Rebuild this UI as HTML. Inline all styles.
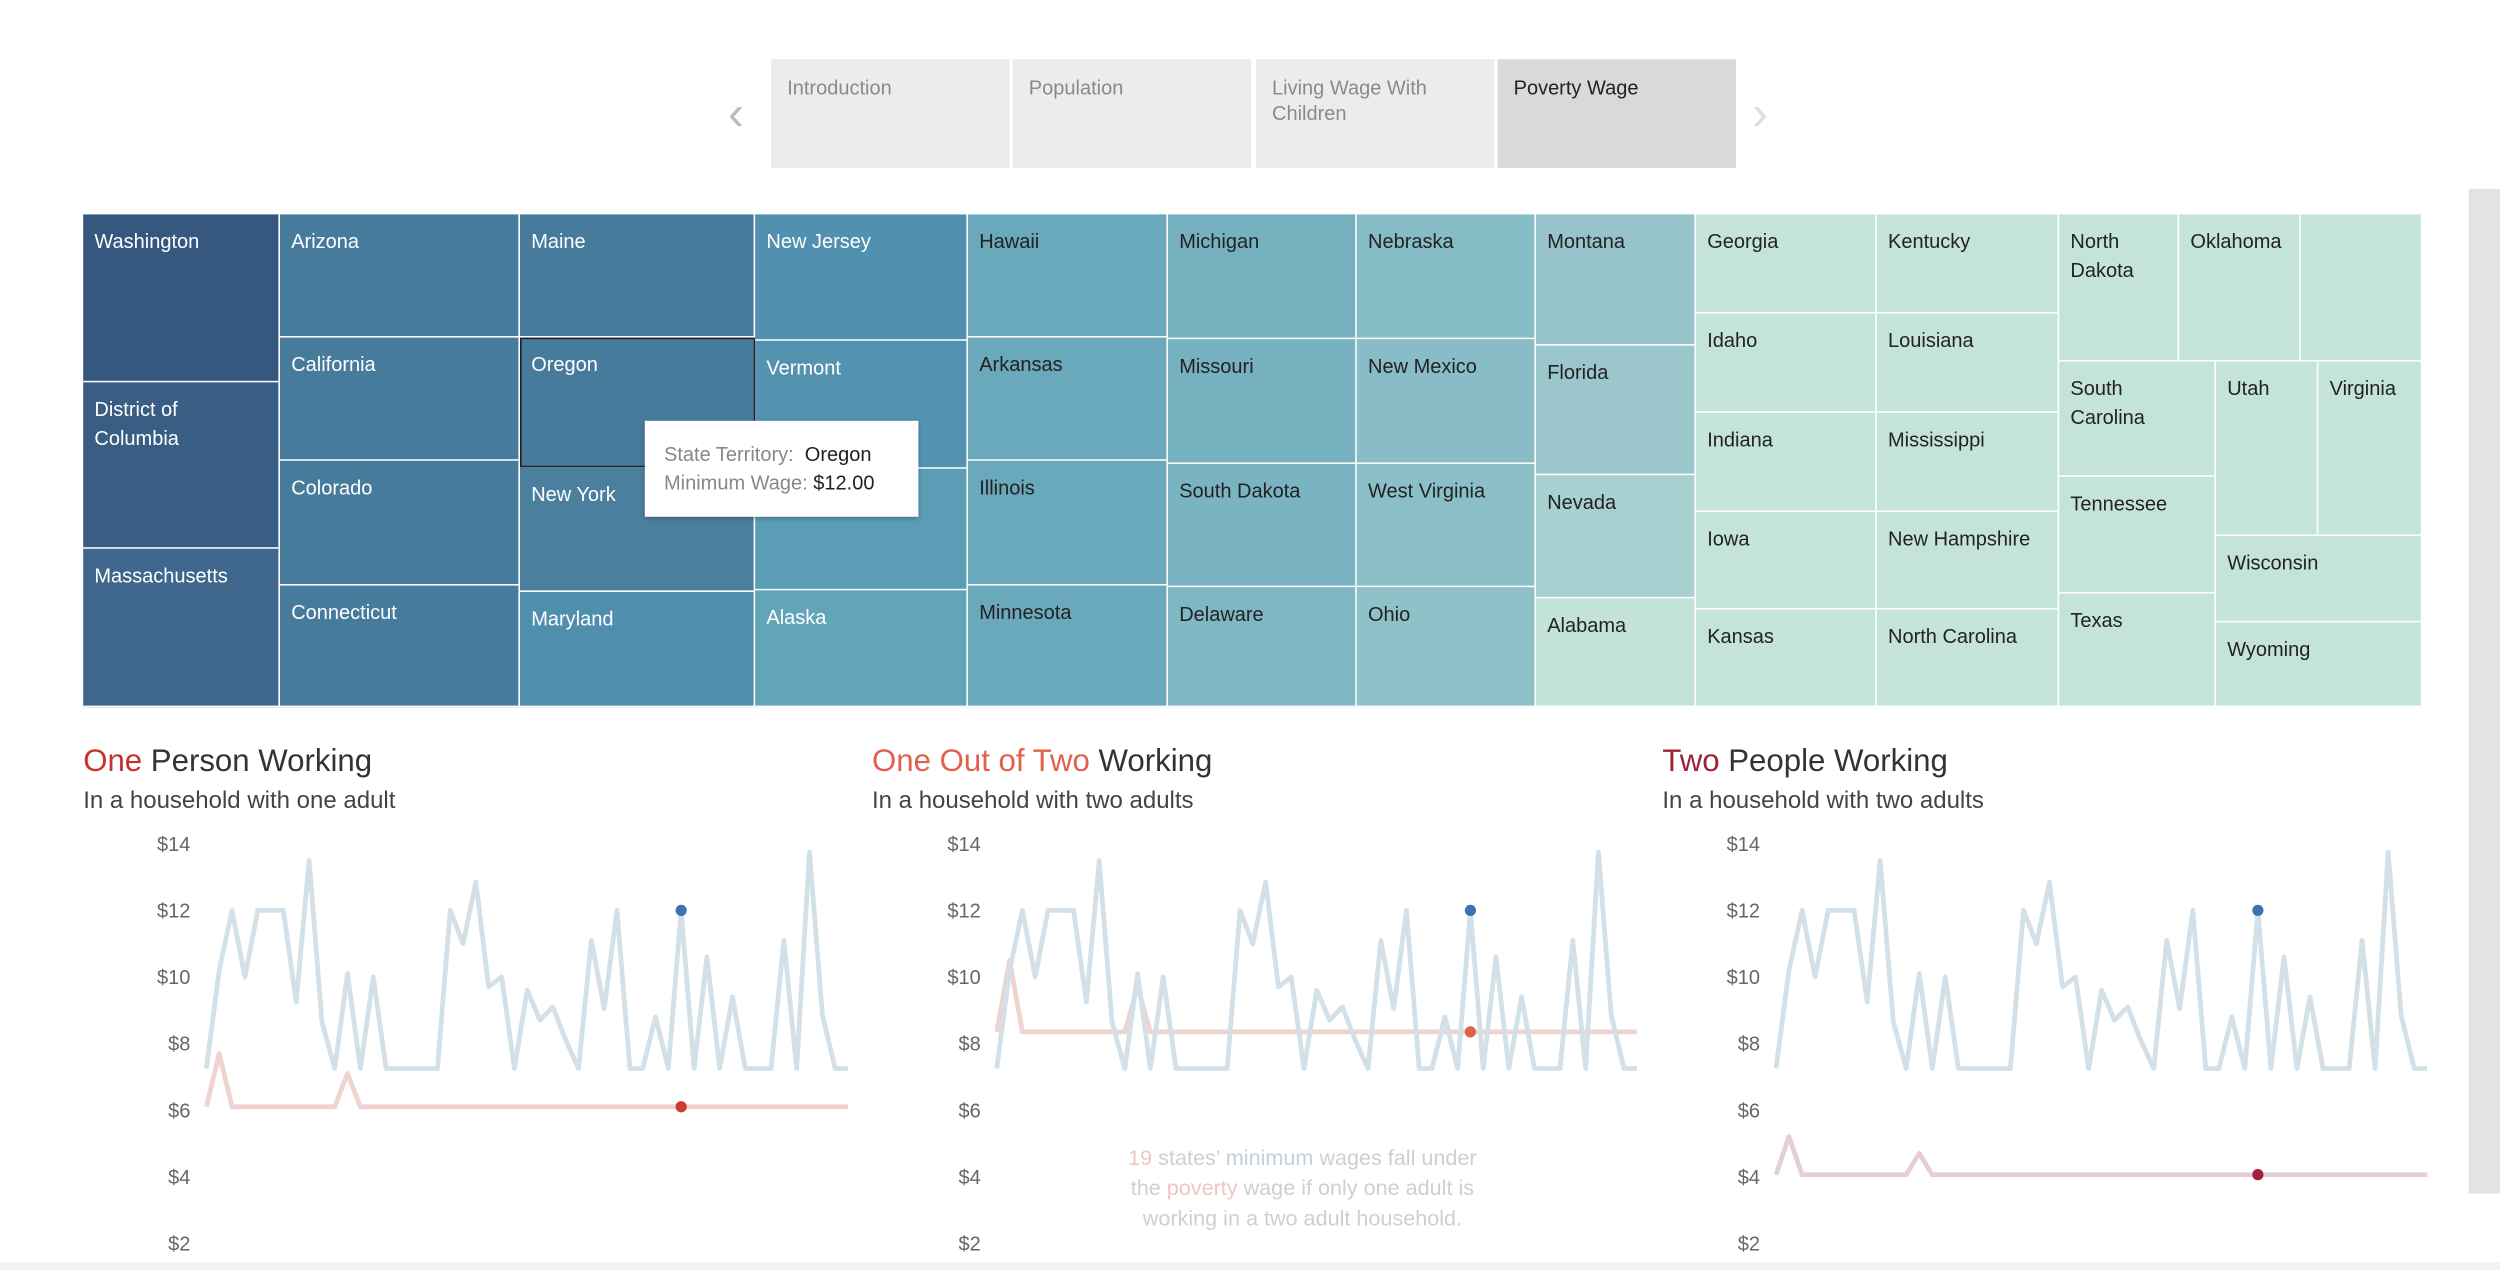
<!DOCTYPE html>
<html><head><meta charset="utf-8">
<style>
html,body{margin:0;padding:0;background:#fff;overflow:hidden;}
body{width:2500px;height:1270px;position:relative;font-family:"Liberation Sans","DejaVu Sans",sans-serif;}
#wrap{position:absolute;left:0;top:0;width:1562.5px;height:793.75px;transform:scale(1.6);transform-origin:0 0;}
.tab{position:absolute;top:37px;height:68px;background:#ececec;color:#8a8a8a;font-size:12.5px;line-height:16px;padding:10px;box-sizing:border-box;}
.cell{position:absolute;box-sizing:border-box;border-right:1.5px solid #fff;border-bottom:1.5px solid #fff;font-size:12.5px;line-height:18px;padding:8px 7px;}
.abs{position:absolute;}
</style></head><body>
<div id="wrap">
<div class="abs" style="left:455px;top:55px;font-size:30px;color:#bbb;">&#x2039;</div>
<div class="tab" style="left:482px;width:149px;">Introduction</div>
<div class="tab" style="left:633px;width:149px;">Population</div>
<div class="tab" style="left:785px;width:149px;">Living Wage With Children</div>
<div class="tab" style="left:936px;width:149px;background:#d9d9d9;color:#222;">Poverty Wage</div>
<div class="abs" style="left:1095px;top:55px;font-size:30px;color:#ddd;">&#x203A;</div>
<div class="abs" style="left:1543px;top:118px;width:20px;height:628px;background:#e3e3e3;"></div>
<div class="abs" style="left:0;top:789px;width:1563px;height:5px;background:#f3f3f3;"></div>
<div id="treemap"></div>
<div class="abs" style="left:403px;top:263px;width:171px;height:60px;background:#fff;box-shadow:0 1px 3px rgba(0,0,0,.3);font-size:12.5px;line-height:18px;padding:12px 0 0 12px;box-sizing:border-box;color:#888;">State Territory:&nbsp; <span style="color:#222">Oregon</span><br>Minimum Wage: <b style="color:#222;font-weight:normal">$12.00</b></div>
<svg id="charts" class="abs" style="left:0;top:0" width="1563" height="794"></svg>
</div>
<script>
const cells=[
["Washington",52,134,175,239],["District of Columbia",52,239,175,343],["Massachusetts",52,343,175,442],
["Arizona",175,134,325,211],["California",175,211,325,288],["Colorado",175,288,325,366],["Connecticut",175,366,325,442],
["Maine",325,134,472,211],["Oregon",325,211,472,292],["New York",325,292,472,370],["Maryland",325,370,472,442],
["New Jersey",472,134,605,213],["Vermont",472,213,605,293],["Rhode Island",472,293,605,369],["Alaska",472,369,605,442],
["Hawaii",605,134,730,211],["Arkansas",605,211,730,288],["Illinois",605,288,730,366],["Minnesota",605,366,730,442],
["Michigan",730,134,848,212],["Missouri",730,212,848,290],["South Dakota",730,290,848,367],["Delaware",730,367,848,442],
["Nebraska",848,134,960,212],["New Mexico",848,212,960,290],["West Virginia",848,290,960,367],["Ohio",848,367,960,442],
["Montana",960,134,1060,216],["Florida",960,216,1060,297],["Nevada",960,297,1060,374],["Alabama",960,374,1060,442],
["Georgia",1060,134,1173,196],["Idaho",1060,196,1173,258],["Indiana",1060,258,1173,320],["Iowa",1060,320,1173,381],["Kansas",1060,381,1173,442],
["Kentucky",1173,134,1287,196],["Louisiana",1173,196,1287,258],["Mississippi",1173,258,1287,320],["New Hampshire",1173,320,1287,381],["North Carolina",1173,381,1287,442],
["North Dakota",1287,134,1362,226],["Oklahoma",1362,134,1438,226],["Pennsylvania",1438,134,1514,226],
["South Carolina",1287,226,1385,298],["Tennessee",1287,298,1385,371],["Texas",1287,371,1385,442],
["Utah",1385,226,1449,335],["Virginia",1449,226,1514,335],["Wisconsin",1385,335,1514,389],["Wyoming",1385,389,1514,442]];
const colors={"Washington":"#36587f","District of Columbia":"#3a5d84","Massachusetts":"#3f678e",
"Arizona":"#477b9b","California":"#477b9b","Colorado":"#477b9b","Connecticut":"#477b9b",
"Maine":"#477b9b","Oregon":"#477b9b","New York":"#4a7f9e","Maryland":"#508ead",
"New Jersey":"#5190ae","Vermont":"#5393b0","Rhode Island":"#5b9db5","Alaska":"#62a5b9",
"Hawaii":"#69a9bb","Arkansas":"#69a9bb","Illinois":"#69a9bb","Minnesota":"#69a9bb",
"Michigan":"#76b1c0","Missouri":"#76b1c0","South Dakota":"#7ab4c2","Delaware":"#7fb7c4",
"Nebraska":"#86bcc6","New Mexico":"#88bdc7","West Virginia":"#8bbfc8","Ohio":"#8fc1c9",
"Montana":"#97c4ca","Florida":"#9bc6cc","Nevada":"#a8d0d0","Alabama":"#c3e3d9"};
const tm=document.getElementById('treemap');
const darkText=new Set(["Washington","District of Columbia","Massachusetts","Arizona","California","Colorado","Connecticut","Maine","Oregon","New York","Maryland","New Jersey","Vermont","Rhode Island","Alaska"]);
const wrapNames={"South Carolina":"South<br>Carolina","North Dakota":"North<br>Dakota","District of Columbia":"District of<br>Columbia"};
cells.forEach(c=>{
 const d=document.createElement('div');
 d.className='cell';
 
 
 d.style.left=c[1]+'px';d.style.top=c[2]+'px';d.style.width=(c[3]-c[1])+'px';d.style.height=(c[4]-c[2])+'px';
 d.style.background=colors[c[0]]||'#c4e4d9';
 d.style.color=darkText.has(c[0])?'#fff':'#222';
 if(c[0]!=="Rhode Island"&&c[0]!=="Pennsylvania"){ if(wrapNames[c[0]]) d.innerHTML=wrapNames[c[0]]; else d.textContent=c[0]; }
 if(c[0]==="Oregon"){d.style.outline='1.5px solid #222';d.style.outlineOffset='-1.5px';}
 tm.appendChild(d);
});
</script>
<script>
const minWage=[7.25,10.2,12,10,12,12,12,9.25,13.5,8.65,7.25,10.1,7.25,10,7.25,7.25,7.25,7.25,7.25,12,11,12.85,9.7,10,7.25,9.6,8.7,9.1,8.1,7.25,11.1,9.05,12,7.25,7.25,8.8,7.25,12,7.25,10.6,7.25,9.4,7.25,7.25,7.25,11.1,7.25,13.75,8.85,7.25,7.25];
const povertyOne=[6.1,7.7,6.1,6.1,6.1,6.1,6.1,6.1,6.1,6.1,6.1,7.1,6.1,6.1,6.1,6.1,6.1,6.1,6.1,6.1,6.1,6.1,6.1,6.1,6.1,6.1,6.1,6.1,6.1,6.1,6.1,6.1,6.1,6.1,6.1,6.1,6.1,6.1,6.1,6.1,6.1,6.1,6.1,6.1,6.1,6.1,6.1,6.1,6.1,6.1,6.1];
const povertyOneOfTwo=[8.35,10.5,8.35,8.35,8.35,8.35,8.35,8.35,8.35,8.35,8.35,9.7,8.35,8.35,8.35,8.35,8.35,8.35,8.35,8.35,8.35,8.35,8.35,8.35,8.35,8.35,8.35,8.35,8.35,8.35,8.35,8.35,8.35,8.35,8.35,8.35,8.35,8.35,8.35,8.35,8.35,8.35,8.35,8.35,8.35,8.35,8.35,8.35,8.35,8.35,8.35];
const povertyTwo=[4.06,5.2,4.06,4.06,4.06,4.06,4.06,4.06,4.06,4.06,4.06,4.7,4.06,4.06,4.06,4.06,4.06,4.06,4.06,4.06,4.06,4.06,4.06,4.06,4.06,4.06,4.06,4.06,4.06,4.06,4.06,4.06,4.06,4.06,4.06,4.06,4.06,4.06,4.06,4.06,4.06,4.06,4.06,4.06,4.06,4.06,4.06,4.06,4.06,4.06,4.06];
const yTicks=[14,12,10,8,6,4,2];
const tickLabels=["$14","$12","$10","$8","$6","$4","$2"];
const selectedIndex=37;
const panels=[
 {name:'one-person',x0:52,l:129,r:530,pov:povertyOne,hi:'One',rest:' Person Working',hc:'#c8322e',sub:'In a household with one adult',dot:'#cf3a33',povFirst:false},
 {name:'one-of-two',x0:545,l:623,r:1023,pov:povertyOneOfTwo,hi:'One Out of Two',rest:' Working',hc:'#e2604b',sub:'In a household with two adults',dot:'#e0604b',povFirst:true},
 {name:'two-people',x0:1039,l:1110,r:1517,pov:povertyTwo,hi:'Two',rest:' People Working',hc:'#a01f36',sub:'In a household with two adults',dot:'#a3203a',povFirst:false}];
const NS='http://www.w3.org/2000/svg';
const svg=document.getElementById('charts');
function yS(v){return 777-(v-2)*20.8;}
function mk(tag,attrs,parent){const e=document.createElementNS(NS,tag);for(const k in attrs)e.setAttribute(k,attrs[k]);(parent||svg).appendChild(e);return e;}
panels.forEach(p=>{
 const g=mk('g',{});
 
 
 const t=mk('text',{x:p.x0,y:482,'font-size':19.5,fill:'#333'},g);
 
 
 const s1=mk('tspan',{fill:p.hc},t);s1.textContent=p.hi;
 const s2=mk('tspan',{},t);s2.textContent=p.rest;
 const st=mk('text',{x:p.x0,y:505,'font-size':15,fill:'#444'},g);
 
 
 st.textContent=p.sub;
 yTicks.forEach((v,i)=>{
  const tl=mk('text',{x:p.l-10,y:yS(v)+4.5,'font-size':12.5,fill:'#666','text-anchor':'end'},g);
  
  
  tl.textContent=tickLabels[i];
 });
 const n=minWage.length;
 const xS=i=>p.l+(p.r-p.l)*i/(n-1);
 const pts=a=>a.map((v,i)=>xS(i).toFixed(1)+','+yS(v).toFixed(1)).join(' ');
 const drawPov=()=>{const pl=mk('polyline',{points:pts(p.pov),fill:'none',stroke:p.name==='two-people'?'#e6cfd4':'#efd3d1','stroke-width':3,'stroke-linejoin':'round'},g);
  
  };
 const drawMin=()=>{const pl=mk('polyline',{points:pts(minWage),fill:'none',stroke:'#d3e0e8','stroke-width':3,'stroke-linejoin':'round'},g);
  
  };
 if(p.povFirst){drawPov();drawMin();}else{drawMin();drawPov();}
 const d1=mk('circle',{cx:xS(selectedIndex),cy:yS(minWage[selectedIndex]),r:3.5,fill:'#3b74b3'},g);
 
 
 const d2=mk('circle',{cx:xS(selectedIndex),cy:yS(p.pov[selectedIndex]),r:3.5,fill:p.dot},g);
 
 
});
const ann=mk('text',{x:814,y:728,'font-size':13.5,fill:'#cfcfcf','text-anchor':'middle'});


ann.innerHTML='<tspan fill="#f0c4c2">19</tspan> states\u2019 <tspan fill="#bcd2e2">minimum</tspan> wages fall under';
const ann2=mk('text',{x:814,y:747,'font-size':13.5,fill:'#cfcfcf','text-anchor':'middle'});


ann2.innerHTML='the <tspan fill="#f0c4c2">poverty</tspan> wage if only one adult is';
const ann3=mk('text',{x:814,y:766,'font-size':13.5,fill:'#cfcfcf','text-anchor':'middle'});


ann3.textContent='working in a two adult household.';
</script>
</body></html>
